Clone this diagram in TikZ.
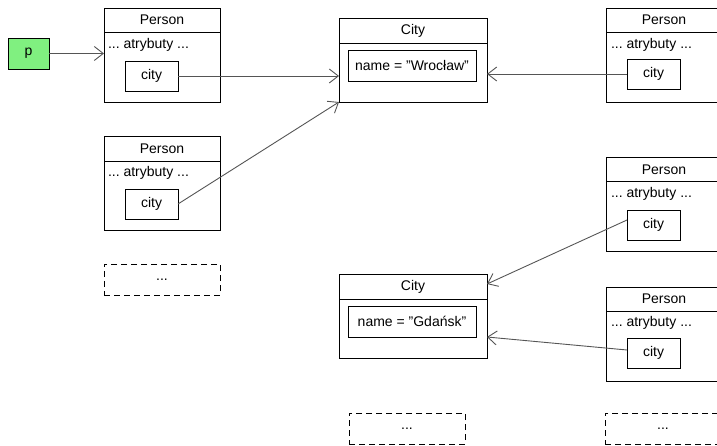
\documentclass[tikz,border=0pt]{standalone}
\usepackage{fontspec}
\setmainfont{Liberation Sans}
\usetikzlibrary{arrows.meta}
\definecolor{pgreen}{HTML}{80F080}
\definecolor{edge}{HTML}{555555}
\frenchspacing
\begin{document}
\begin{tikzpicture}[x=1pt,y=-1pt,
  every node/.style={font=\fontsize{14}{16}\selectfont, inner sep=0pt, outer sep=0pt},
  obj/.style={draw=black, line width=0.8pt, rectangle, anchor=north west},
  pbox/.style={obj, minimum width=116pt, minimum height=94pt},
  cbox/.style={obj, minimum width=148pt, minimum height=84pt},
  slot/.style={obj, minimum width=53pt, minimum height=30pt},
  namebox/.style={obj, minimum width=128pt, minimum height=31pt},
  more/.style={draw=black, dashed, dash pattern=on 6pt off 4pt, line width=0.8pt, rectangle, anchor=north west, minimum width=116pt, minimum height=31pt},
  ref/.style={draw=edge, line width=0.9pt, -{Straight Barb[length=9pt,width=14pt,line width=0.9pt]}},
]
\useasboundingbox (0,0) rectangle (717,446);
\clip (0,0) rectangle (717,446);

% p variable
\node[obj, fill=pgreen, minimum width=41pt, minimum height=31pt] (p) at (8,38) {p};

% Person 1
\node[pbox] (P1) at (104,8) {};
\node at (162,20) {Person};
\draw[line width=0.8pt] (104,32) -- (220,32);
\node[anchor=west] at (108,45) {... atrybuty ...};
\node[slot] (c1) at (125,61) {city};

% Person 2
\node[pbox] (P2) at (104,136) {};
\node at (162,149) {Person};
\draw[line width=0.8pt] (104,161) -- (220,161);
\node[anchor=west] at (108,173) {... atrybuty ...};
\node[slot] (c2) at (125,189) {city};

\node[more] (m1) at (104,264) {...};

% City Wroclaw
\node[cbox] (C1) at (339,18) {};
\node at (413,31) {City};
\draw[line width=0.8pt] (339,43) -- (487,43);
\node[namebox] (n1) at (348,50) {name = "Wrocław"};
\coordinate (C1bl) at (339,102);

% City Gdansk
\node[cbox] (C2) at (339,274) {};
\node at (413,287) {City};
\draw[line width=0.8pt] (339,299) -- (487,299);
\node[namebox] (n2) at (348,306) {name = "Gdańsk"};
\coordinate (C2tr) at (487,284);
\coordinate (C2r) at (487,337);

% Person 3
\node[pbox] (P3) at (606,8) {};
\node at (664,20) {Person};
\draw[line width=0.8pt] (606,32) -- (722,32);
\node[anchor=west] at (611,45) {... atrybuty ...};
\node[slot] (c3) at (627,59) {city};

% Person 4
\node[pbox] (P4) at (606,157) {};
\node at (664,170) {Person};
\draw[line width=0.8pt] (606,181) -- (722,181);
\node[anchor=west] at (611,194) {... atrybuty ...};
\node[slot] (c4) at (627,210) {city};

% Person 5
\node[pbox] (P5) at (606,287) {};
\node at (664,299) {Person};
\draw[line width=0.8pt] (606,311) -- (722,311);
\node[anchor=west] at (611,323) {... atrybuty ...};
\node[slot] (c5) at (627,338) {city};

\node[more] (m2) at (349,413) {...};
\node[more] (m3) at (605,413) {...};

% references
\draw[ref] (p.east) -- (P1.west |- p.east);
\draw[ref] (c1.east) -- (C1.west |- c1.east);
\draw[ref] (c2.east) -- (C1bl);
\draw[ref] (c3.west) -- (C1.east |- c3.west);
\draw[ref] (c4.west) ++(0,-5) -- (C2tr);
\draw[ref] (c5.west) ++(0,-3) -- (C2r);
\end{tikzpicture}
\end{document}
